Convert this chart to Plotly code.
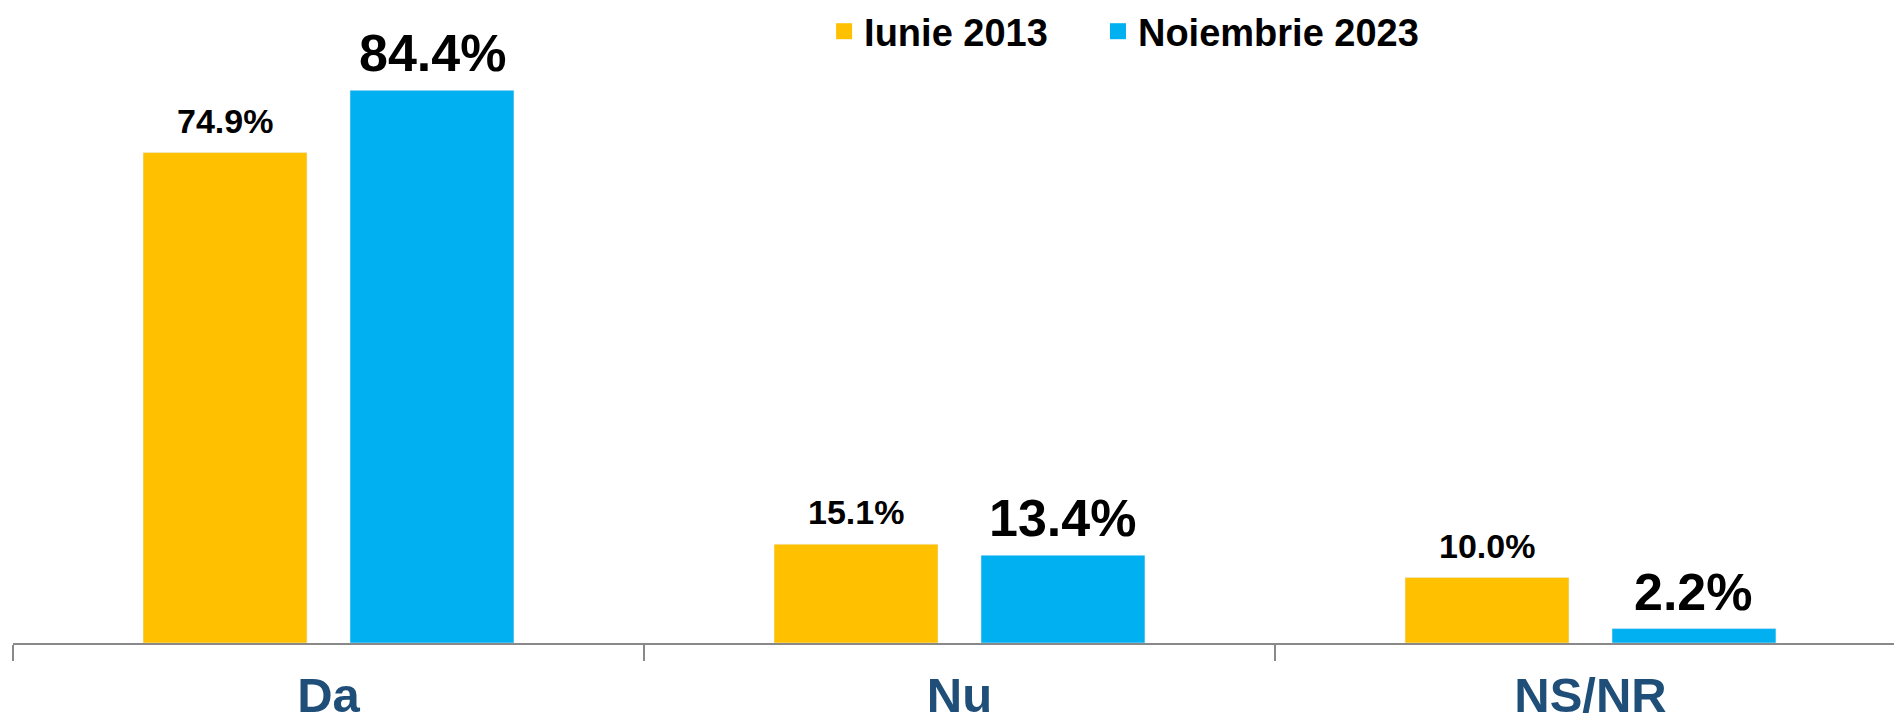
import plotly.graph_objects as go

# categorias y valores
categorias = ["Da", "Nu", "NS/NR"]
iunie_2013 = [74.9, 15.1, 10.0]
noiembrie_2023 = [84.4, 13.4, 2.2]
series = ["Iunie 2013", "Noiembrie 2023"]

galben = "#FFC000"
albastru = "#00B0F0"
fuente = "Arial, Liberation Sans"

fig = go.Figure()
fig.add_trace(go.Bar(x=categorias, y=iunie_2013, name=series[0],
                     marker_color=galben, showlegend=False))
fig.add_trace(go.Bar(x=categorias, y=noiembrie_2023, name=series[1],
                     marker_color=albastru, showlegend=False))

# etiquetas encima de las barras
for cat, v1, v2 in zip(categorias, iunie_2013, noiembrie_2023):
    fig.add_annotation(x=cat, y=v1, text=f"{v1:.1f}%", showarrow=False,
                       xshift=-103.5, yshift=11, yanchor="bottom",
                       font=dict(size=34, color="black", family=fuente, weight="bold"))
    fig.add_annotation(x=cat, y=v2, text=f"{v2:.1f}%", showarrow=False,
                       xshift=103.5, yshift=6, yanchor="bottom",
                       font=dict(size=52, color="black", family=fuente, weight="bold"))

# leyenda con cuadrados, una por serie
for nombre, color, leg in zip(series, [galben, albastru], ["legend", "legend2"]):
    fig.add_trace(go.Scatter(x=[None], y=[None], mode="markers", name=nombre, legend=leg,
                             marker=dict(symbol="square", size=18, color=color)))

fuente_leyenda = dict(size=38, color="black", family=fuente, weight="bold")
fig.update_layout(
    width=1894, height=726,
    margin=dict(l=13, r=0, t=0, b=83),
    plot_bgcolor="white", paper_bgcolor="white",
    barmode="group", bargap=0.344, bargroupgap=0.208,
    legend=dict(orientation="h", x=0.4312, y=0.951, xanchor="left", yanchor="middle",
                font=fuente_leyenda, itemwidth=30),
    legend2=dict(orientation="h", x=0.5768, y=0.951, xanchor="left", yanchor="middle",
                 font=fuente_leyenda, itemwidth=30),
    xaxis=dict(range=[-0.5, 2.481], showline=True, linecolor="#898989", linewidth=1.5,
               ticks="outside", tickson="boundaries", ticklen=16, tickcolor="#898989",
               tickwidth=1.5, automargin=False, ticklabelstandoff=8,
               tickfont=dict(size=49, color="#1F4E79", family=fuente, weight="bold")),
    yaxis=dict(range=[0, 98.2], visible=False),
)

fig.write_html("out.html", config={"displayModeBar": False},
               post_script="document.body.style.margin='0';")
